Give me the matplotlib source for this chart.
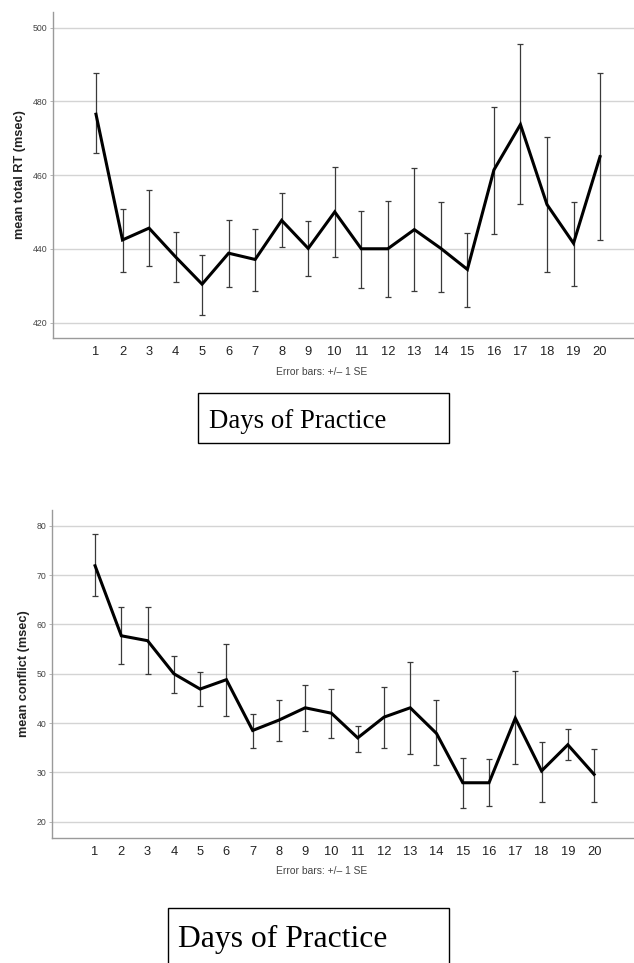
import matplotlib
matplotlib.use("Agg")
import matplotlib.pyplot as plt
import numpy as np
from matplotlib.patches import Rectangle

days = list(range(1, 21))
day_labels = [str(d) for d in days]

rt_mean = [476.5, 442.4, 445.6, 437.8, 430.4, 438.8, 437.1, 447.7, 440.1, 450.0,
           440.0, 440.0, 445.2, 440.1, 434.4, 461.4, 473.7, 452.0, 441.5, 465.0]
rt_upper = [487.6, 450.7, 456.0, 444.6, 438.4, 447.8, 445.4, 455.0, 447.5, 462.3,
            450.2, 452.9, 461.8, 452.7, 444.4, 478.5, 495.6, 470.3, 452.8, 487.8]
rt_lower = [465.9, 433.8, 435.3, 431.1, 422.0, 429.5, 428.5, 440.4, 432.5, 437.8,
            429.4, 426.9, 428.6, 428.2, 424.1, 444.1, 452.2, 433.7, 430.0, 442.4]
rt_ticks = [420, 440, 460, 480, 500]

cf_mean = [71.9, 57.7, 56.7, 50.0, 46.9, 48.8, 38.5, 40.6, 43.1, 42.0,
           37.0, 41.2, 43.1, 37.9, 27.9, 27.9, 41.0, 30.3, 35.6, 29.6]
cf_upper = [78.3, 63.6, 63.5, 53.7, 50.3, 56.0, 41.9, 44.7, 47.7, 47.0,
            39.5, 47.3, 52.3, 44.6, 32.9, 32.7, 50.5, 36.1, 38.9, 34.7]
cf_lower = [65.8, 51.9, 50.0, 46.0, 43.5, 41.5, 35.0, 36.4, 38.4, 37.0,
            34.1, 35.0, 33.8, 31.4, 22.8, 23.2, 31.8, 24.1, 32.5, 24.1]
cf_ticks = [20, 30, 40, 50, 60, 70, 80]

W, H = 634, 963
fig = plt.figure(figsize=(W / 100, H / 100), dpi=100)


def fx(px):
    return px / W


def fy(py):
    return 1 - py / H


def panel(left, top, bottom, mean, lower, upper, ticks, ylim, xlim, ylabel):
    ax = fig.add_axes([fx(left), fy(bottom), fx(W - left), fy(top) - fy(bottom)])
    m = np.array(mean)
    lo = np.array(lower)
    up = np.array(upper)
    ax.errorbar(days, m, yerr=[m - lo, up - m], fmt='none', ecolor='#3a3a3a',
                elinewidth=0.9, capsize=2.4, capthick=0.9, zorder=3)
    ax.plot(days, m, color='black', lw=2.2, zorder=4, solid_joinstyle='miter')
    ax.set_xlim(*xlim)
    ax.set_ylim(*ylim)
    ax.set_yticks(ticks)
    ax.set_yticklabels([str(t) for t in ticks], fontsize=6.3, color='#444444',
                       family='Liberation Sans')
    ax.set_xticks(days)
    ax.set_xticklabels(day_labels, fontsize=9.3, color='#222222', family='Liberation Sans')
    ax.tick_params(axis='y', length=2, width=0.6, color='#aaaaaa', pad=2)
    ax.tick_params(axis='x', length=0, pad=6)
    ax.grid(axis='y', color='#d4d4d4', lw=1.0, zorder=0)
    ax.set_axisbelow(True)
    for s in ['top', 'right']:
        ax.spines[s].set_visible(False)
    for s in ['left', 'bottom']:
        ax.spines[s].set_color('#9a9a9a')
        ax.spines[s].set_linewidth(1.0)
    ax.set_ylabel(ylabel, fontsize=9.2, fontweight='bold', family='Liberation Sans',
                  color='#222222', labelpad=5)
    return ax


ax1 = panel(53, 11.7, 338, rt_mean, rt_lower, rt_upper, rt_ticks,
            (415.8, 504.3), (-0.62, 21.28), 'mean total RT (msec)')
ax2 = panel(52, 510, 838, cf_mean, cf_lower, cf_upper, cf_ticks,
            (16.7, 83.2), (-0.64, 21.52), 'mean conflict (msec)')

fig.text(fx(322), fy(372), 'Error bars: +/\u2013 1 SE', fontsize=7.4, color='#444444',
         ha='center', va='center', family='Liberation Sans')
fig.text(fx(322), fy(871), 'Error bars: +/\u2013 1 SE', fontsize=7.4, color='#444444',
         ha='center', va='center', family='Liberation Sans')

# boxes with "Days of Practice"
fig.patches.append(Rectangle((fx(198), fy(443)), fx(449 - 198), fy(393) - fy(443),
                             transform=fig.transFigure, fill=False, ec='black', lw=1.0))
fig.text(fx(209), fy(428), 'Days of Practice', fontsize=19.3, family='Liberation Serif',
         ha='left', va='baseline', color='black')
fig.patches.append(Rectangle((fx(168), fy(966)), fx(449 - 168), fy(908) - fy(966),
                             transform=fig.transFigure, fill=False, ec='black', lw=1.0))
fig.text(fx(178), fy(947), 'Days of Practice', fontsize=22.8, family='Liberation Serif',
         ha='left', va='baseline', color='black')

fig.savefig('out.png', dpi=100)
